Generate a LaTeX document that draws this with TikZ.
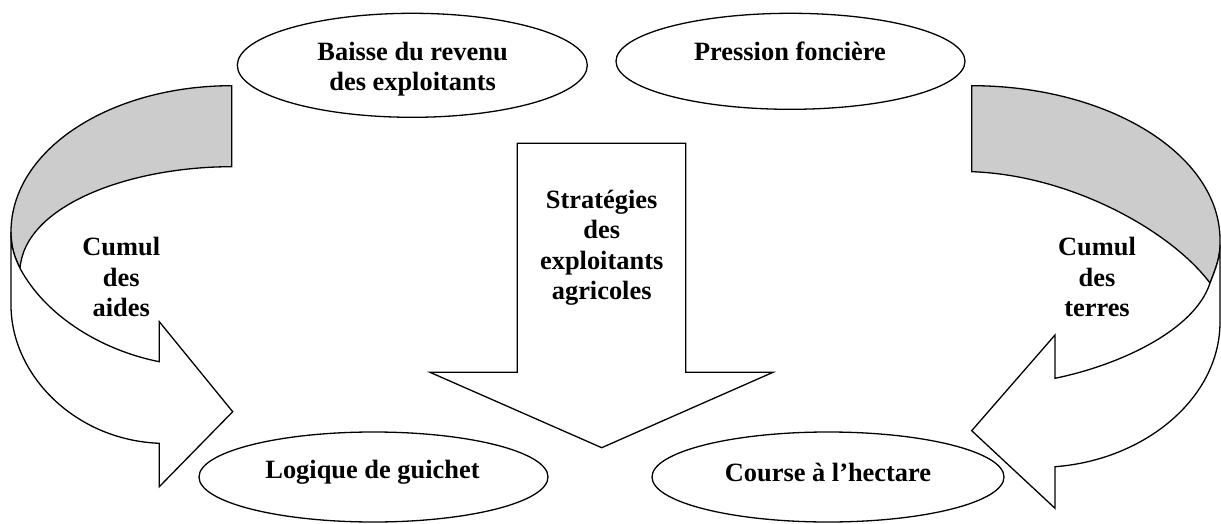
\documentclass[tikz,border=0pt]{standalone}
\usepackage{fontspec}
\setmainfont{Liberation Serif}
\usetikzlibrary{shapes.geometric}
\definecolor{bandgray}{RGB}{204,204,204}
\begin{document}
\begin{tikzpicture}[x=1pt,y=-1pt,
  outl/.style={draw=black,line width=1.3pt,line join=miter},
  oval/.style={ellipse,draw=black,fill=white,line width=1.3pt,inner sep=0pt},
  lbl/.style={font=\fontsize{26.4}{30.5}\selectfont\bfseries,align=center,inner sep=0pt}]
\fill[white] (0,0) rectangle (1221,524);
\useasboundingbox (0,0) rectangle (1221,524);
% left curved arrow
\path[outl,fill=bandgray] (231.7,85.7) .. controls (109.8,85.7) and (11,149.9) .. (11,232)
  .. controls (11,248) and (15,258) .. (20,268.3)
  .. controls (25,205) and (130,166.7) .. (231.7,166.7) -- cycle;
\path[outl,fill=white] (11,232) -- (11,305) .. controls (11,375) and (75,440) .. (159.3,443.3)
  -- (159.3,486.7) -- (232.7,411.7) -- (159.3,321.7) -- (159.3,361.7)
  .. controls (100,350) and (45,315) .. (20,268.3)
  .. controls (15,258) and (11,248) .. (11,232) -- cycle;
% right curved arrow
\path[outl,fill=bandgray] (971.7,85.7) .. controls (1108.8,85.7) and (1220,154.8) .. (1220,240)
  -- (1220,245) .. controls (1220,257) and (1216,268) .. (1210,283)
  .. controls (1170,230) and (1070,175) .. (971.7,171.7) -- cycle;
\path[outl,fill=white] (1220,245) -- (1220,322) .. controls (1220,398) and (1145,460) .. (1055,466.7)
  -- (1055,508.3) -- (971.7,430.7) -- (1055,335) -- (1055,378.3)
  .. controls (1120,365) and (1195,330) .. (1210,283)
  .. controls (1216,268) and (1220,257) .. (1220,245) -- cycle;
% central arrow
\path[outl,fill=white] (517.3,143.3) -- (685.7,143.3) -- (685.7,372.3) -- (773,372.3)
  -- (601.7,447.7) -- (430,372.3) -- (517.3,372.3) -- cycle;
% ellipses
\node[oval,minimum width=350pt,minimum height=104pt] (e1) at (412.3,65.3) {};
\node[oval,minimum width=349pt,minimum height=96pt] (e2) at (790.5,61.3) {};
\node[oval,minimum width=349pt,minimum height=90pt] (e3) at (373.5,477) {};
\node[oval,minimum width=352pt,minimum height=90pt] (e4) at (828,477) {};
% texts
\node[lbl] (t1) at (412.6,69.2) {Baisse du revenu\\des exploitants};
\node[lbl] (t2) at (790,51.7) {Pression foncière};
\node[lbl] (t3) at (372.5,472) {Logique de guichet};
\node[lbl] (t4) at (828,472) {Course à l’hectare};
\node[lbl] (t5) at (601.7,247.5) {Stratégies\\des\\exploitants\\agricoles};
\node[lbl] (t6) at (121.3,277) {Cumul\\des\\aides};
\node[lbl] (t7) at (1097,277) {Cumul\\des\\terres};
\end{tikzpicture}
\end{document}
